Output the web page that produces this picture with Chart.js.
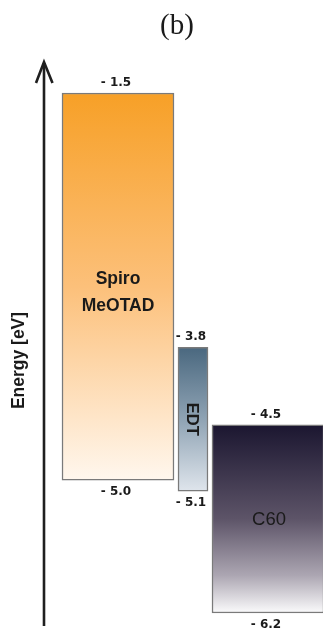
<!DOCTYPE html>
<html>
<head>
<meta charset="utf-8">
<script src="https://cdn.jsdelivr.net/npm/chart.js@4/dist/chart.umd.min.js"></script>
<style>
  html, body { margin: 0; padding: 0; background: #ffffff; }
  canvas { display: block; }
</style>
</head>
<body>
<canvas id="levels" width="323" height="629"></canvas>
<script>
// Band edges (eV) of each layer in the stack
const categories = ['Spiro MeOTAD', 'EDT', 'C60'];
const upperLevels = [-1.5, -3.8, -4.5];
const lowerLevels = [-5.0, -5.1, -6.2];
const titleText = '(b)';
const axisTitle = 'Energy [eV]';

// Vertical fill running from a bar's upper edge down to its lower edge
function vertGradient(stops) {
  return (ctx) => {
    const chart = ctx.chart;
    const ys = chart.scales.y;
    if (!ys || !Array.isArray(ctx.raw)) return stops[0][1];
    const top = ys.getPixelForValue(Math.max(...ctx.raw));
    const bot = ys.getPixelForValue(Math.min(...ctx.raw));
    if (!isFinite(top) || !isFinite(bot)) return stops[0][1];
    const g = chart.ctx.createLinearGradient(0, top, 0, bot);
    stops.forEach(([o, c]) => g.addColorStop(o, c));
    return g;
  };
}

const fills = [
  [[0, '#f7a027'], [0.5, '#fcc07a'], [1, '#fff7ee']],
  [[0, '#4a687f'], [0.5, '#8fa3b4'], [1, '#dfe5ec']],
  [[0, '#1b1630'], [0.5, '#5d5468'], [0.8, '#aca6b2'], [1, '#fbfbfc']]
];
const thickness = [112, 30, 112];

const datasets = categories.map((name, i) => ({
  label: name,
  data: categories.map((_, j) => (j === i ? [lowerLevels[i], upperLevels[i]] : null)),
  backgroundColor: vertGradient(fills[i]),
  borderColor: '#7a7a7a',
  borderWidth: 1.5,
  borderSkipped: false,
  barThickness: thickness[i],
  grouped: false,
  clip: false
}));

const fmt = (v) => '- ' + Math.abs(v).toFixed(1);

const decorations = {
  id: 'decorations',
  afterDraw(chart) {
    const c = chart.ctx;
    const area = chart.chartArea;
    c.save();
    c.fillStyle = '#1a1a1a';
    c.strokeStyle = '#1f1f1f';

    // Title
    c.font = '29px "Liberation Serif", "DejaVu Serif", serif';
    c.textAlign = 'center';
    c.textBaseline = 'alphabetic';
    c.fillText(titleText, 177, 33.5);

    // Energy arrow
    const ax = area.left - 36.5;
    c.lineWidth = 2.6;
    c.lineJoin = 'miter';
    c.beginPath();
    c.moveTo(ax, 626);
    c.lineTo(ax, 63);
    c.stroke();
    c.beginPath();
    c.moveTo(ax - 8, 83);
    c.lineTo(ax, 62);
    c.lineTo(ax + 8.5, 83);
    c.stroke();

    // Axis title, reading upward
    c.save();
    c.translate(24.3, 360.5);
    c.rotate(-Math.PI / 2);
    c.font = 'bold 17.5px "Liberation Sans", Arial, sans-serif';
    c.textAlign = 'center';
    c.textBaseline = 'alphabetic';
    c.fillText(axisTitle, 0, 0);
    c.restore();

    // Per-bar labels
    chart.data.datasets.forEach((ds, i) => {
      const el = chart.getDatasetMeta(i).data[i];
      if (!el) return;
      const top = Math.min(el.y, el.base);
      const bot = Math.max(el.y, el.base);
      const cx = el.x;
      const cy = (top + bot) / 2;

      c.font = 'bold 12px "DejaVu Sans", sans-serif';
      c.textAlign = 'center';
      c.textBaseline = 'middle';
      c.fillText(fmt(upperLevels[i]), cx - 2, top - 10.5);
      c.fillText(fmt(lowerLevels[i]), cx - 2, bot + 11.5);

      const name = categories[i];
      if (i === 0) {
        const parts = name.split(' ');
        c.font = 'bold 17.5px "Liberation Sans", Arial, sans-serif';
        c.textBaseline = 'alphabetic';
        c.fillText(parts[0], cx, cy - 2.2);
        c.fillText(parts[1], cx, cy + 24.5);
      } else if (i === 1) {
        c.save();
        c.translate(cx - 1, cy);
        c.rotate(Math.PI / 2);
        c.font = 'bold 16.5px "Liberation Sans", Arial, sans-serif';
        c.textBaseline = 'middle';
        c.fillText(name, 0, 0);
        c.restore();
      } else {
        c.font = '18.5px "Liberation Sans", Arial, sans-serif';
        c.textBaseline = 'middle';
        c.fillText(name, cx + 1, cy + 1);
      }
    });
    c.restore();
  }
};

new Chart(document.getElementById('levels'), {
  type: 'bar',
  data: { labels: categories, datasets },
  options: {
    responsive: false,
    devicePixelRatio: 1,
    animation: false,
    layout: { padding: { top: 59.8, bottom: 10.5, left: 80.5, right: 17.5 } },
    plugins: {
      legend: { display: false },
      tooltip: { enabled: false },
      title: { display: false }
    },
    scales: {
      x: { type: 'category', display: false, offset: true },
      y: { display: false, min: -6.25, max: -1.2 }
    }
  },
  plugins: [decorations]
});
</script>
</body>
</html>
